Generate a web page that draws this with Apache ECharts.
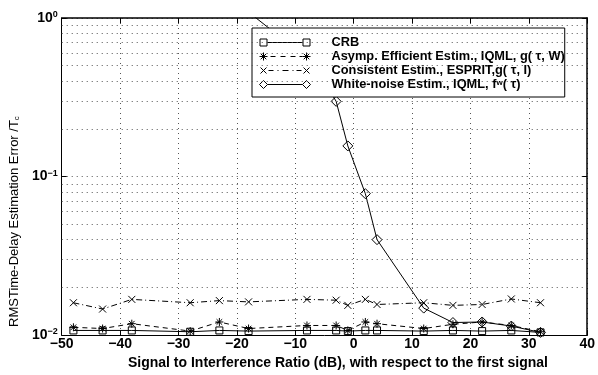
<!DOCTYPE html>
<html>
<head>
<meta charset="utf-8">
<script src="https://cdn.jsdelivr.net/npm/echarts@6/dist/echarts.min.js"></script>
<style>
html,body{margin:0;padding:0;background:#fff;}
#chart{width:598px;height:375px;}
</style>
</head>
<body>
<div id="chart"></div>
<script>
// ---- data ----
var xPoints = [-48, -43, -38, -28, -23, -18, -8, -3, -1, 2, 4, 12, 17, 22, 27, 32];
var crb        = [0.0107, 0.0107, 0.0107, 0.0105, 0.0107, 0.0106, 0.0107, 0.0107, 0.0106, 0.0107, 0.0107, 0.0106, 0.0107, 0.0106, 0.0107, 0.0104];
var asympEff   = [0.0112, 0.0110, 0.0118, 0.0106, 0.0121, 0.0110, 0.0115, 0.0115, 0.0107, 0.0121, 0.0118, 0.0110, 0.0117, 0.0121, 0.0115, 0.0105];
var consistent = [0.0160, 0.0146, 0.0168, 0.0160, 0.0165, 0.0162, 0.0168, 0.0166, 0.0154, 0.0168, 0.0156, 0.0160, 0.0154, 0.0156, 0.0169, 0.0160];
var xWhite = [-18, -13, -8, -3, -1, 2, 4, 12, 17, 22, 27, 32];
var whiteNoise = [1.09, 0.78, 0.60, 0.298, 0.156, 0.078, 0.040, 0.0148, 0.0120, 0.0121, 0.0114, 0.0104];
var xTicks = [-50, -40, -30, -20, -10, 0, 10, 20, 30, 40];
var yDecades = [0.01, 0.1, 1];
var minorGridValues = [0.02,0.03,0.04,0.05,0.06,0.07,0.08,0.09,0.2,0.3,0.4,0.5,0.6,0.7,0.8,0.9];
var seriesNames = ['CRB', 'Asymp. Efficient Estim., IQML, g( \u03c4, W)', 'Consistent Estim., ESPRIT,g( \u03c4, I)', 'White-noise Estim., IQML, f^w( \u03c4)'];
var legendLabels = ['CRB', 'Asymp. Efficient Estim., IQML, g( \u03c4, {bw|W})', 'Consistent Estim., ESPRIT,g( \u03c4, I)', 'White-noise Estim., IQML, f{sup|w}( \u03c4)'];

function pairs(xs, ys){ return xs.map(function(x,i){ return [x, ys[i]]; }); }

var FONT = 'Liberation Sans';
var symStar = 'path://M5,0 L5,10 M0,5 L10,5 M1.5,1.5 L8.5,8.5 M8.5,1.5 L1.5,8.5';
var symX = 'path://M0,0 L10,10 M10,0 L0,10';
var hollow = {color: 'rgba(0,0,0,0)', borderColor: '#000', borderWidth: 1};

// legend icons (68 x 12 box), marker - line - marker
var B = 'M0,0 M68,12 ';
var iconCRB = 'path://' + B + 'M1.5,2.5 L8.5,2.5 L8.5,9.5 L1.5,9.5 Z M8.5,6 L44.5,6 M44.5,2.5 L51.5,2.5 L51.5,9.5 L44.5,9.5 Z';
var iconStar = 'path://' + B + 'M5,2 L5,10 M1,6 L9,6 M2.2,3.2 L7.8,8.8 M7.8,3.2 L2.2,8.8 M12,6 L17,6 M22,6 L27,6 M32,6 L37,6 M41,6 L44,6 M48,2 L48,10 M44,6 L52,6 M45.2,3.2 L50.8,8.8 M50.8,3.2 L45.2,8.8';
var iconX = 'path://' + B + 'M2,3 L8,9 M8,3 L2,9 M10,6 L15,6 M19,6 L20,6 M24,6 L30,6 M34,6 L35,6 M38,6 L43,6 M45,3 L51,9 M51,3 L45,9';
var iconDiamond = 'path://' + B + 'M1,6 L5,2 L9,6 L5,10 Z M9,6 L44,6 M44,6 L48,2 L52,6 L48,10 Z';
var icons = [iconCRB, iconStar, iconX, iconDiamond];

var gridDots = {color: '#555', type: [1, 4], width: 1};

var chart = echarts.init(document.getElementById('chart'), null, {renderer: 'canvas'});
var option = {
  animation: false,
  backgroundColor: '#fff',
  textStyle: {fontFamily: FONT},
  grid: {left: 60, right: 9, top: 18, bottom: 30},
  legend: {
    orient: 'vertical',
    left: 252, top: 28,
    padding: [8, 0, 6, 6],
    itemGap: 1,
    itemWidth: 68, itemHeight: 12,
    symbolKeepAspect: false,
    selectedMode: false,
    backgroundColor: '#fff',
    borderColor: '#000', borderWidth: 1, borderRadius: 0,
    itemStyle: {color: 'rgba(0,0,0,0)', borderColor: '#000', borderWidth: 1},
    textStyle: {fontFamily: FONT, fontSize: 12.8, fontWeight: 'bold', color: '#000', lineHeight: 12,
      rich: {bw: {fontFamily: FONT, fontSize: 12.8, fontWeight: 'bold', color: '#000', lineHeight: 12},
             sup: {fontFamily: FONT, fontSize: 8, fontWeight: 'bold', color: '#000', verticalAlign: 'top', lineHeight: 8}}},
    formatter: function(n){ return legendLabels[seriesNames.indexOf(n)]; },
    data: seriesNames.map(function(n,i){ return {name: n, icon: icons[i]}; })
  },
  xAxis: [{
    type: 'value', min: -50, max: 40, interval: 10,
    name: 'Signal to Interference Ratio (dB), with respect to the first signal',
    nameLocation: 'middle', nameGap: 18,
    nameTextStyle: {fontFamily: FONT, fontSize: 14, fontWeight: 'bold', color: '#000', padding: [0,0,0,27]},
    axisLine: {onZero: false, lineStyle: {color: '#000', width: 1}},
    axisTick: {inside: true, length: 5, lineStyle: {color: '#000'}},
    axisLabel: {fontFamily: FONT, fontSize: 14, fontWeight: 'bold', color: '#000', margin: 2,
      formatter: function(v){ return v < 0 ? '\u2212' + Math.abs(v) : String(v); }},
    splitLine: {show: true, lineStyle: gridDots}
  }, {
    type: 'value', min: -50, max: 40, interval: 10, position: 'top',
    axisLine: {onZero: false, lineStyle: {color: '#000', width: 1.5}},
    axisTick: {inside: true, length: 5, lineStyle: {color: '#000'}},
    axisLabel: {show: false}, splitLine: {show: false}
  }],
  yAxis: [{
    type: 'log', logBase: 10, min: 0.01, max: 1,
    name: 'RMSTime-Delay Estimation Error /T{sub|c}',
    nameLocation: 'middle', nameGap: 32,
    nameTextStyle: {fontFamily: FONT, fontSize: 13, color: '#000', padding: [0, 90, 0, 0],
      rich: {sub: {fontFamily: FONT, fontSize: 8, color: '#000', verticalAlign: 'bottom', lineHeight: 8}}},
    axisLine: {show: true, onZero: false, lineStyle: {color: '#000', width: 1}},
    axisTick: {inside: true, length: 5, lineStyle: {color: '#000'}},
    axisLabel: {margin: 4, color: '#000',
      formatter: function(v){ var e = Math.round(Math.log10(v)); return '{b|10}{s|' + (e < 0 ? '\u2212' + (-e) : e) + '}'; },
      rich: {b: {fontFamily: FONT, fontSize: 14, fontWeight: 'bold', color: '#000', lineHeight: 16},
             s: {fontFamily: FONT, fontSize: 9, fontWeight: 'bold', color: '#000', lineHeight: 9, verticalAlign: 'top'}}},
    splitLine: {show: true, lineStyle: gridDots}
  }, {
    type: 'log', logBase: 10, min: 0.01, max: 1, position: 'right',
    axisLine: {show: true, onZero: false, lineStyle: {color: '#000', width: 1.5}},
    axisTick: {inside: true, length: 5, lineStyle: {color: '#000'}},
    axisLabel: {show: false}, splitLine: {show: false}
  }],
  series: [{
    name: seriesNames[0], type: 'line', data: pairs(xPoints, crb),
    symbol: 'rect', symbolSize: 7, itemStyle: hollow,
    lineStyle: {color: '#000', width: 1, type: 'solid'},
    markLine: {silent: true, symbol: ['none','none'], label: {show: false},
      lineStyle: gridDots,
      data: minorGridValues.map(function(v){ return {yAxis: v}; })}
  }, {
    name: seriesNames[1], type: 'line', data: pairs(xPoints, asympEff),
    symbol: symStar, symbolSize: 8, itemStyle: hollow,
    lineStyle: {color: '#000', width: 1, type: [5, 4]}
  }, {
    name: seriesNames[2], type: 'line', data: pairs(xPoints, consistent),
    symbol: symX, symbolSize: 7, itemStyle: hollow,
    lineStyle: {color: '#000', width: 1, type: [6, 3, 1, 3]}
  }, {
    name: seriesNames[3], type: 'line', data: pairs(xWhite, whiteNoise),
    symbol: 'diamond', symbolSize: 10, itemStyle: hollow,
    lineStyle: {color: '#000', width: 1, type: 'solid'}
  }]
};
chart.setOption(option);
</script>
</body>
</html>
